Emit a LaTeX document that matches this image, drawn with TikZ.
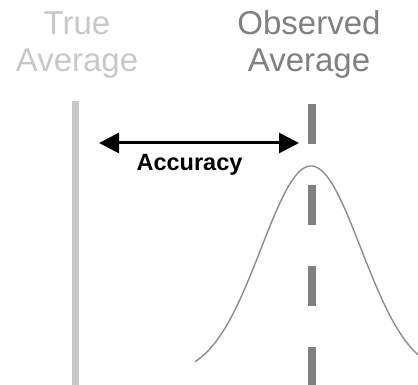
\documentclass[tikz,border=0pt]{standalone}
\usepackage{fontspec}
\setsansfont{Liberation Sans}
\usetikzlibrary{arrows.meta}

\definecolor{truegrey}{RGB}{200,200,200}
\definecolor{obsgrey}{RGB}{128,128,128}
\definecolor{curvegrey}{RGB}{140,140,140}

\begin{document}
\begin{tikzpicture}[x=1pt,y=-1pt,
    heading/.style={font=\sffamily\fontsize{33}{37}\selectfont, align=center, inner sep=0pt},
    meanline/.style={line width=7pt},
    accarrow/.style={line width=3pt, {Triangle[length=20pt,width=20pt]}-{Triangle[length=20pt,width=20pt]}}]
  \useasboundingbox (0,0) rectangle (418,385);
  % labels
  \node[heading, text=truegrey, anchor=base] (true) at (77,72) {True\\Average};
  \node[heading, text=obsgrey, anchor=base] (observed) at (309,72) {Observed\\Average};
  % averages
  \coordinate (truetop) at (75.5,101);
  \coordinate (truebot) at (75.5,385);
  \coordinate (obstop) at (312,104);
  \coordinate (obsbot) at (312,385);
  \draw[meanline, truegrey] (truetop) -- (truebot);
  \draw[meanline, obsgrey, line width=8pt, dash pattern=on 40pt off 41pt] (obstop) -- (obsbot);
  % accuracy
  \coordinate (accleft) at (99,143);
  \coordinate (accright) at (299,143);
  \draw[accarrow] (accleft) -- (accright);
  \node[font=\sffamily\bfseries\fontsize{23.5}{26}\selectfont, inner sep=0pt, anchor=base] (accuracy) at (189.5,171) {Accuracy};
  % distribution
  \draw[curvegrey, line width=1.4pt] plot[domain=195:418, samples=90, smooth] (\x, {376-210*exp(-((\x-311)^2)/5000)});
\end{tikzpicture}
\end{document}
